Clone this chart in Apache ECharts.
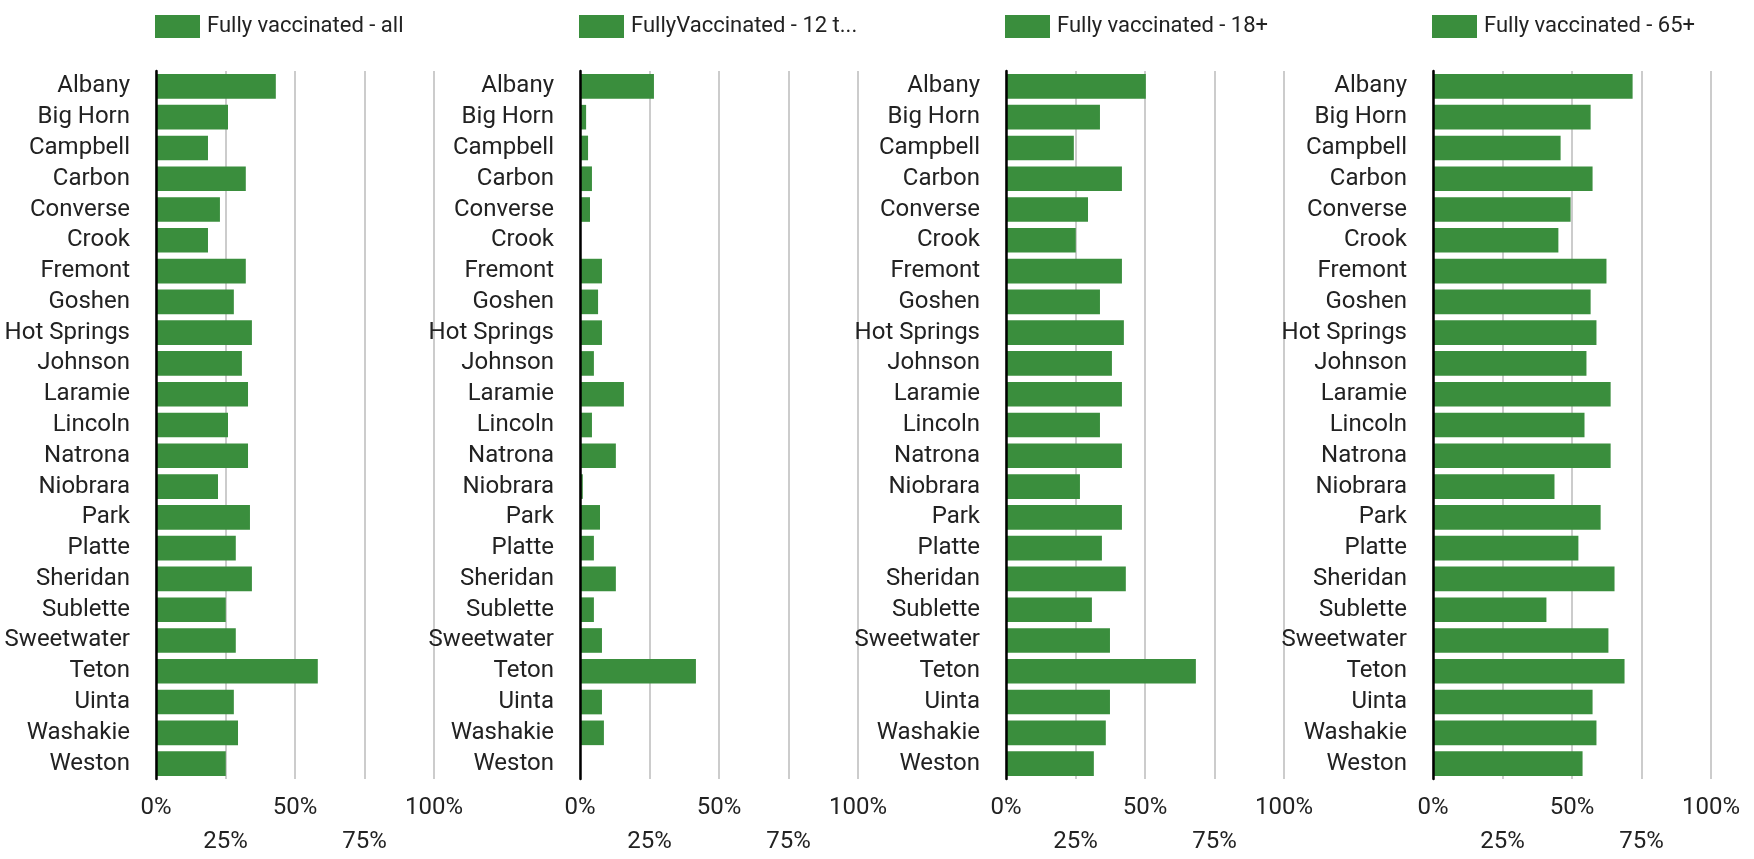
<!DOCTYPE html>
<html>
<head>
<meta charset="utf-8">
<script src="https://cdn.jsdelivr.net/npm/echarts@6/dist/echarts.min.js"></script>
<style>
html,body{margin:0;padding:0;background:#fff;}
#chart{width:1754px;height:859px;}
</style>
</head>
<body>
<div id="chart"></div>
<script>
const counties = ["Albany","Big Horn","Campbell","Carbon","Converse","Crook","Fremont","Goshen","Hot Springs","Johnson","Laramie","Lincoln","Natrona","Niobrara","Park","Platte","Sheridan","Sublette","Sweetwater","Teton","Uinta","Washakie","Weston"];
const seriesNames = ["Fully vaccinated - all","FullyVaccinated - 12 to 17","Fully vaccinated - 18+","Fully vaccinated - 65+"];
const legendLabels = ["Fully vaccinated - all","FullyVaccinated - 12 t...","Fully vaccinated - 18+","Fully vaccinated - 65+"];
const vaxAll   = [43.1,25.9,18.7,32.3,23.0,18.7,32.3,28.0,34.5,30.9,33.1,25.9,33.1,22.3,33.8,28.7,34.5,25.1,28.7,58.2,28.0,29.5,25.1];
const vax12    = [26.6,2.2,2.9,4.3,3.6,0,7.9,6.5,7.9,5.0,15.8,4.3,12.9,1.0,7.2,5.0,12.9,5.0,7.9,41.7,7.9,8.6,0];
const vax18    = [50.3,33.8,24.4,41.7,29.5,25.1,41.7,33.8,42.4,38.1,41.7,33.8,41.7,26.6,41.7,34.5,43.1,30.9,37.4,68.3,37.4,35.9,31.6];
const vax65    = [71.8,56.7,45.9,57.4,49.5,45.1,62.4,56.7,58.8,55.2,63.9,54.5,63.9,43.7,60.3,52.3,65.3,40.8,63.1,68.9,57.4,58.8,53.8];
const xTicks = [0,25,50,75,100];

const seriesData = [vaxAll, vax12, vax18, vax65];
const panelLeft = [156, 580, 1006, 1433];
const panelWidth = 278;
const gridTop = 71, gridHeight = 727;
const green = '#3a8e3d';

const chart = echarts.init(document.getElementById('chart'), null, {renderer:'canvas'});
const grids = [], xAxes = [], yAxes = [], series = [], legends = [];
for (let i = 0; i < 4; i++) {
  grids.push({left: panelLeft[i], top: gridTop, width: panelWidth, height: gridHeight, containLabel: false});
  xAxes.push({
    type: 'value', gridIndex: i, min: 0, max: 100, interval: 25,
    axisLine: {show: false}, axisTick: {show: false},
    splitLine: {show: true, lineStyle: {color: '#cccccc', width: 2}},
    axisLabel: {
      show: true, fontSize: 24, color: '#222', fontFamily: 'Roboto', margin: 12, lineHeight: 34,
      showMinLabel: true, showMaxLabel: true,
      formatter: function (v) { return (xTicks.indexOf(v) % 2 === 1) ? '\n' + v + '%' : v + '%'; }
    }
  });
  yAxes.push({
    type: 'category', gridIndex: i, data: counties, inverse: true, z: 5,
    axisLine: {show: true, lineStyle: {color: '#000', width: 2.5}},
    axisTick: {show: false},
    splitLine: {show: false},
    axisLabel: {fontSize: 24, color: '#222', fontFamily: 'Roboto', margin: 26, interval: 0}
  });
  series.push({
    type: 'bar', name: seriesNames[i], xAxisIndex: i, yAxisIndex: i,
    data: seriesData[i], barCategoryGap: '20%',
    itemStyle: {color: green},
    emphasis: {disabled: true}
  });
  legends.push({
    data: [seriesNames[i]], left: panelLeft[i] - 1, top: 15,
    itemWidth: 45, itemHeight: 23, icon: 'rect', padding: 0,
    selectedMode: false,
    textStyle: {fontSize: 22, color: '#222', fontFamily: 'Roboto', padding: [0,0,0,2]},
    formatter: (function (idx) { return function () { return legendLabels[idx]; }; })(i)
  });
}

chart.setOption({
  animation: false,
  backgroundColor: '#ffffff',
  grid: grids, xAxis: xAxes, yAxis: yAxes, series: series, legend: legends
});
</script>
</body>
</html>
